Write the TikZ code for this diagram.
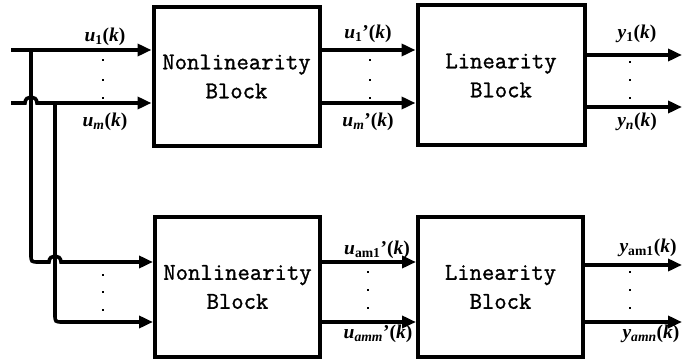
\documentclass[tikz,border=0pt]{standalone}
\usepackage{fontspec}
\setmainfont{Liberation Serif}
\newfontfamily\blkfont{Latin Modern Mono}[FakeBold=1.2]
\usetikzlibrary{arrows.meta}
\begin{document}
\begin{tikzpicture}[x=1pt,y=-1pt,
  blk/.style={draw,line width=4pt,align=center,inner sep=0pt,
    font=\blkfont\fontsize{24}{29}\selectfont},
  sig/.style={line width=3.6pt,-{Triangle[length=14pt,width=12pt]}},
  lab/.style={inner sep=0pt,font=\bfseries\fontsize{19.5}{21}\selectfont}]
\useasboundingbox (0,0) rectangle (684,363);
% blocks
\node[blk,minimum width=166pt,minimum height=139pt] (nl1) at (236.5,76.5) {Nonlinearity\\Block};
\node[blk,minimum width=167pt,minimum height=140pt] (l1) at (501,75.5) {Linearity\\Block};
\node[blk,minimum width=165pt,minimum height=140pt] (nl2) at (237.5,287) {Nonlinearity\\Block};
\node[blk,minimum width=165pt,minimum height=140pt] (l2) at (500.5,287) {Linearity\\Block};
% reference coordinates
\coordinate (s1) at (11,50);
\coordinate (s2) at (11,103);
\coordinate (r1) at (0,262);
\coordinate (r2) at (0,322);
\coordinate (e1) at (682,55);
\coordinate (e2) at (682,107);
\coordinate (e3) at (682,265);
\coordinate (e4) at (682,322);
\coordinate (m3) at (0,262);
\coordinate (m4) at (0,322);
\coordinate (j1) at (31,50);
\coordinate (j2) at (55,103);
% inputs top
\draw[sig] (s1) -- (s1 -| nl1.west);
\draw[sig] (s2) -- (25,103) .. controls (25,95) and (37,95) .. (37,103) -- (s2 -| nl1.west);
% branches to lower block
\draw[sig] (j1) -- (31,254) .. controls (31,262) .. (39,262) -- (49,262)
  .. controls (49,254) and (61,254) .. (61,262) -- (r1 -| nl2.west);
\draw[sig] (j2) -- (55,314) .. controls (55,322) .. (63,322) -- (r2 -| nl2.west);
% middle
\draw[sig] (nl1.east |- s1) -- (l1.west |- s1);
\draw[sig] (nl1.east |- s2) -- (l1.west |- s2);
\draw[sig] (nl2.east |- m3) -- (l2.west |- m3);
\draw[sig] (nl2.east |- m4) -- (l2.west |- m4);
% outputs
\draw[sig] (l1.east |- e1) -- (e1);
\draw[sig] (l1.east |- e2) -- (e2);
\draw[sig] (l2.east |- e3) -- (e3);
\draw[sig] (l2.east |- e4) -- (e4);
% dots
\foreach \x/\y in {103/60,103/80,103/98, 370/60,370/80,370/98, 630/62,630/80,630/98,
  103/275,103/292,103/310, 368/272,368/290,368/308, 630/272,630/290,630/308}
  \fill (\x-1.4,\y-1.4) rectangle (\x+1.4,\y+1.4);
% labels
\node[lab] (lu1) at (105,37) {\textit{u}\textsubscript{1}(\textit{k})};
\node[lab] (lum) at (105,122) {\textit{u\textsubscript{m}}(\textit{k})};
\node[lab] (lu1p) at (368,34) {\textit{u}\textsubscript{1}’(\textit{k})};
\node[lab] (lump) at (368,122) {\textit{u\textsubscript{m}}’(\textit{k})};
\node[lab] (ly1) at (637,34) {\textit{y}\textsubscript{1}(\textit{k})};
\node[lab] (lyn) at (637,122) {\textit{y\textsubscript{n}}(\textit{k})};
\node[lab] (lua1) at (377,250) {\textit{u}\textsubscript{am1}’(\textit{k})};
\node[lab] (luam) at (378,334) {\textit{u\textsubscript{amm}}’(\textit{k})};
\node[lab] (lya1) at (648,248) {\textit{y}\textsubscript{am1}(\textit{k})};
\node[lab] (lyam) at (651,334) {\textit{y\textsubscript{amn}}(\textit{k})};
\end{tikzpicture}
\end{document}
